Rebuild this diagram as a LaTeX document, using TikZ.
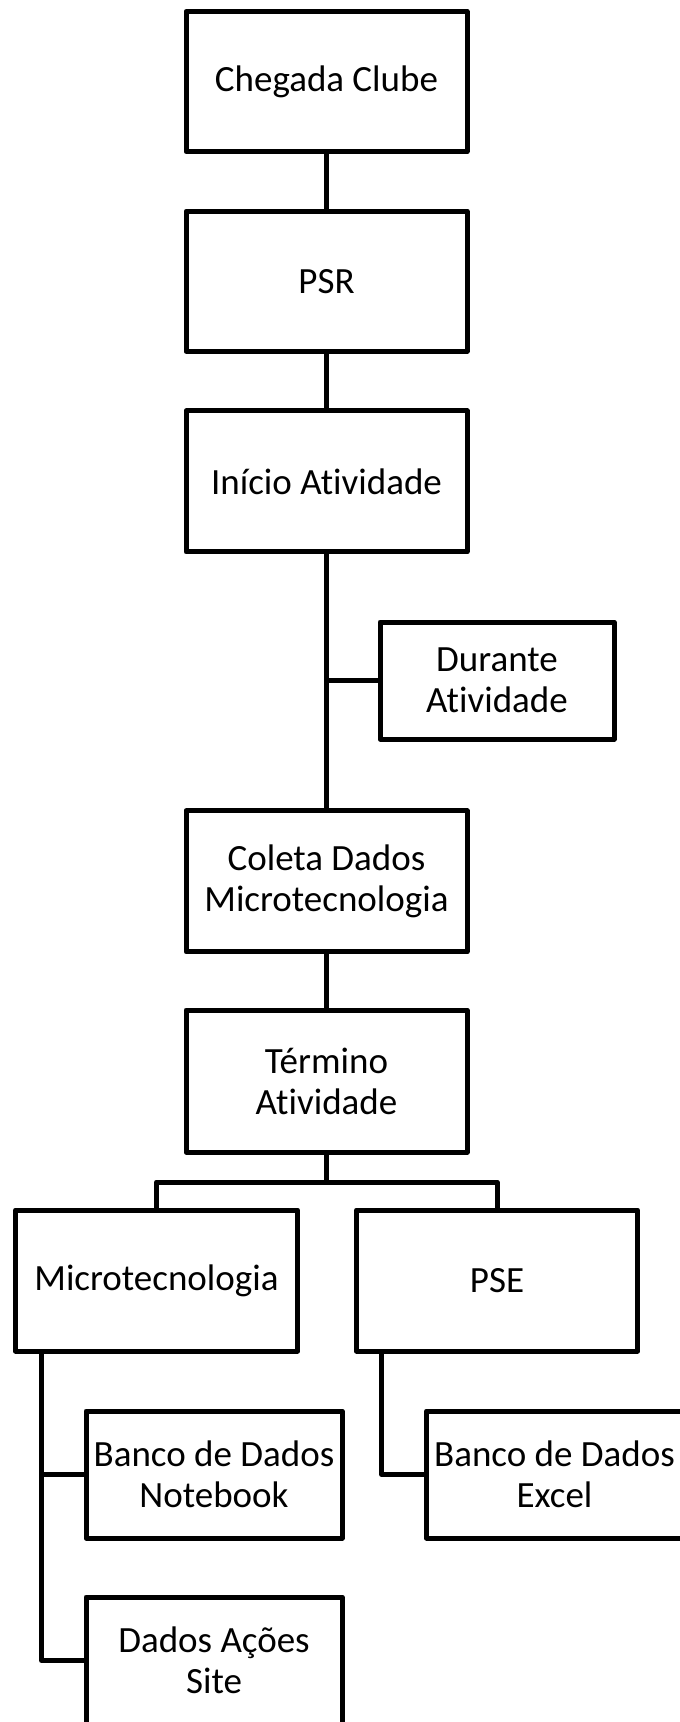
\documentclass[tikz,border=0pt]{standalone}
\usepackage{fontspec}
\setmainfont{Carlito}[Ligatures=NoCommon]
\begin{document}
\begin{tikzpicture}[x=1pt,y=-1pt,
  box/.style={draw=black, line width=5pt, line join=round, rectangle, inner sep=0pt, align=center,
    font=\fontsize{37}{41}\selectfont, fill=white},
  conn/.style={draw=black, line width=5pt, line join=round}]
\useasboundingbox (0,0) rectangle (680,1722);
\clip (0,0) rectangle (680,1722);
\fill[white] (0,0) rectangle (680,1722);
\node[box, minimum width=281pt, minimum height=140pt] (chegada) at (326.5,81.5) {Chegada Clube};
\node[box, minimum width=281pt, minimum height=140pt] (psr) at (326.5,281.2) {PSR};
\node[box, minimum width=281pt, minimum height=141pt] (inicio) at (326.5,481.4) {Início Atividade};
\node[box, minimum width=234pt, minimum height=117pt] (durante) at (497,680.5) {Durante\\Atividade};
\node[box, minimum width=281pt, minimum height=141pt] (coleta) at (326.5,881.3) {Coleta Dados\\Microtecnologia};
\node[box, minimum width=281pt, minimum height=142pt] (termino) at (326.5,1081) {Término\\Atividade};
\node[box, minimum width=282pt, minimum height=141pt] (micro) at (156.5,1280.5) {Microtecnologia};
\node[box, minimum width=281pt, minimum height=141pt] (pse) at (497,1280.5) {PSE};
\node[box, minimum width=256pt, minimum height=127pt] (nb) at (214,1474.5) {Banco de Dados\\Notebook};
\node[box, minimum width=256pt, minimum height=127pt] (excel) at (554.5,1474.5) {Banco de Dados\\Excel};
\node[box, minimum width=256pt, minimum height=127pt] (site) at (214,1660.5) {Dados Ações\\Site};
\coordinate (dj) at (326.5,680.5);
\coordinate (bus) at (326.5,1182);
\coordinate (mt) at ([xshift=28.5pt]micro.south west);
\coordinate (pt) at ([xshift=27.7pt]pse.south west);
\draw[conn] (chegada.south) -- (psr.north);
\draw[conn] (psr.south) -- (inicio.north);
\draw[conn] (inicio.south) -- (coleta.north);
\draw[conn] (dj) -- (durante.west);
\draw[conn] (coleta.south) -- (termino.north);
\draw[conn] (termino.south) -- (bus);
\draw[conn] (bus) -| (micro.north);
\draw[conn] (bus) -| (pse.north);
\draw[conn] (mt) |- (nb.west);
\draw[conn] (mt) |- (site.west);
\draw[conn] (pt) |- (excel.west);
\end{tikzpicture}
\end{document}
